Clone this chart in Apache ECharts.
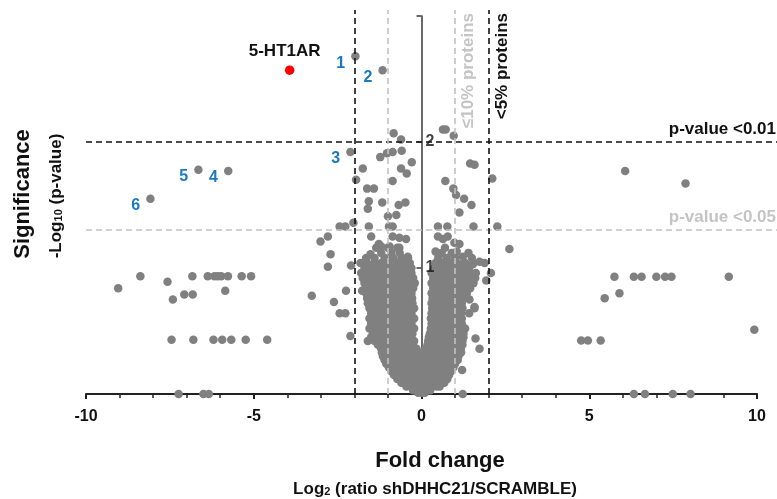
<!DOCTYPE html>
<html><head><meta charset="utf-8">
<script src="https://cdn.jsdelivr.net/npm/echarts@6/dist/echarts.min.js"></script>
<style>html,body{margin:0;padding:0;background:#fff}#c{width:777px;height:499px}</style>
</head><body><div id="c"></div>
<script>
// ---------------- data ----------------
const xTickValues = [-10, -5, 0, 5, 10];
const yTickLabels = [1, 2];
const pValueLines = [2, 1.301];          // -log10(0.01), -log10(0.05)
const pValueTexts = ['p-value <0.01', 'p-value <0.05'];
const foldLinesOuter = [-2, 2];          // <5% proteins
const foldLinesInner = [-1, 1];          // <=10% proteins
const highlightPoint = [[-3.93, 2.57]];
const highlightName = '5-HT1AR';
const numberedPoints = [[-1.97, 2.68], [-1.16, 2.57], [-2.12, 1.92], [-5.76, 1.77], [-6.65, 1.78], [-8.08, 1.55]];
const numberedLabels = ['1', '2', '3', '4', '5', '6'];

const leftOutliers = [
  [-9.04, 0.84], [-8.38, 0.935], [-7.57, 0.89], [-7.41, 0.75], [-7.07, 0.79], [-6.82, 0.79],
  [-6.83, 0.935], [-6.37, 0.935], [-6.17, 0.935], [-6.07, 0.935], [-5.97, 0.935], [-5.77, 0.935],
  [-5.85, 0.82], [-5.36, 0.935], [-5.08, 0.935],
  [-7.45, 0.43], [-6.80, 0.43], [-6.20, 0.43], [-5.94, 0.43], [-5.67, 0.43], [-5.24, 0.43], [-4.60, 0.43],
  [-7.24, 0.0], [-6.50, 0.0], [-6.34, 0.0]
];
const rightOutliers = [
  [6.07, 1.77], [7.87, 1.67],
  [5.75, 0.93], [6.33, 0.93], [6.56, 0.93], [7.00, 0.93], [7.26, 0.93], [7.45, 0.93], [9.16, 0.93],
  [5.46, 0.76], [5.90, 0.80], [9.92, 0.51],
  [4.76, 0.425], [4.96, 0.425], [5.34, 0.425],
  [6.33, 0.0], [6.66, 0.0], [7.49, 0.0], [8.02, 0.0]
];
const nearLeft = [
  [-3.27, 0.78], [-2.61, 0.73], [-2.44, 0.64], [-2.27, 0.64], [-2.25, 0.82], [-2.12, 0.46],
  [-3.01, 1.21], [-2.71, 1.11], [-2.79, 1.01], [-2.79, 1.25], [-2.10, 1.02], [-1.77, 0.82],
  [-2.44, 1.33], [-2.27, 1.33], [-2.03, 1.36], [-1.57, 1.33], [-0.97, 1.33], [-0.86, 1.33],
  [-1.00, 1.41], [-0.75, 1.42], [-1.60, 1.47], [-1.57, 1.53], [-1.17, 1.52], [-0.68, 1.50],
  [-0.48, 1.52], [-1.62, 1.63], [-1.42, 1.63], [-1.95, 1.70], [-0.86, 1.69], [-1.75, 1.79],
  [-0.61, 1.79], [-0.29, 1.84], [-0.44, 1.75], [-1.23, 1.88], [-1.03, 1.91], [-0.86, 1.92],
  [-0.59, 1.93], [-0.83, 2.07], [-0.61, 2.02],
  [-1.50, 1.25], [-1.27, 1.19], [-0.86, 1.25], [-0.66, 1.24], [-0.46, 1.23], [-0.95, 1.17],
  [-0.66, 1.16], [-1.20, 1.17], [-1.52, 1.11], [-0.41, 1.09]
];
const nearRight = [
  [0.64, 2.10], [0.72, 2.10], [0.96, 2.05], [0.71, 1.69], [1.45, 1.83], [1.58, 1.82], [2.11, 1.71],
  [0.95, 1.63], [1.03, 1.58], [1.27, 1.55], [1.49, 1.50], [1.13, 1.44], [0.49, 1.33], [0.77, 1.33],
  [1.55, 1.33], [2.26, 1.33], [2.62, 1.15], [2.07, 0.96], [1.93, 0.90], [1.88, 1.04], [1.73, 1.05],
  [1.53, 1.03], [1.13, 1.03], [1.73, 0.36], [1.61, 0.44], [1.58, 0.69], [1.43, 0.75], [1.21, 0.19],
  [1.23, 0.0], [0.49, 1.25], [0.64, 1.23], [0.78, 1.25], [0.42, 1.13], [0.98, 1.20], [1.13, 1.19],
  [1.05, 1.13], [1.23, 1.09]
];
// dense central cloud, one entry per row: [y, [x values read across the row]]
const coreRows = [
  [0.01, [-0.1, 0, 0.1]],
  [0.03, [-0.25, -0.12, 0, 0.12, 0.26]],
  [0.06, [-0.45, -0.3, -0.15, 0, 0.15, 0.3, 0.45, 0.54]],
  [0.09, [-0.6, -0.45, -0.3, -0.15, 0, 0.15, 0.3, 0.45, 0.6, 0.68]],
  [0.12, [-0.72, -0.58, -0.43, -0.28, -0.13, 0.02, 0.17, 0.32, 0.47, 0.62, 0.77]],
  [0.15, [-0.82, -0.68, -0.53, -0.38, -0.23, -0.08, 0.07, 0.22, 0.37, 0.52, 0.67, 0.82]],
  [0.18, [-0.9, -0.75, -0.6, -0.45, -0.3, -0.15, 0, 0.15, 0.3, 0.45, 0.6, 0.75, 0.88]],
  [0.21, [-0.97, -0.82, -0.67, -0.52, -0.37, -0.22, -0.07, 0.08, 0.23, 0.38, 0.53, 0.68, 0.83, 0.95]],
  [0.24, [-1.05, -0.9, -0.75, -0.6, -0.45, -0.3, -0.15, 0, 0.15, 0.3, 0.45, 0.6, 0.75, 0.9, 1.0]],
  [0.27, [-1.1, -0.95, -0.8, -0.65, -0.5, -0.35, -0.2, -0.05, 0.1, 0.25, 0.4, 0.55, 0.7, 0.85, 1.0, 1.08]],
  [0.30, [-1.15, -1.0, -0.85, -0.7, -0.55, -0.4, -0.25, -0.1, 0.05, 0.2, 0.35, 0.5, 0.65, 0.8, 0.95, 1.1]],
  [0.33, [-1.18, -1.03, -0.88, -0.73, -0.58, -0.43, -0.28, -0.13, 0.02, 0.17, 0.32, 0.47, 0.62, 0.77, 0.92, 1.07, 1.18]],
  [0.36, [-1.2, -1.05, -0.9, -0.75, -0.6, -0.45, -0.3, -0.15, 0.12, 0.27, 0.42, 0.57, 0.72, 0.87, 1.02, 1.17]],
  [0.39, [-1.3, -1.15, -1.0, -0.85, -0.7, -0.55, -0.4, -0.25, 0.18, 0.33, 0.48, 0.63, 0.78, 0.93, 1.08, 1.22]],
  [0.42, [-1.6, -1.4, -1.25, -1.1, -0.95, -0.8, -0.65, -0.5, -0.35, -0.22, 0.2, 0.35, 0.5, 0.65, 0.8, 0.95, 1.1, 1.22]],
  [0.45, [-1.5, -1.35, -1.2, -1.05, -0.9, -0.75, -0.6, -0.45, -0.3, 0.22, 0.37, 0.52, 0.67, 0.82, 0.97, 1.12, 1.25]],
  [0.48, [-1.45, -1.3, -1.15, -1.0, -0.85, -0.7, -0.55, -0.4, -0.27, 0.25, 0.4, 0.55, 0.7, 0.85, 1.0, 1.15, 1.25]],
  [0.52, [-1.55, -1.4, -1.25, -1.1, -0.95, -0.8, -0.65, -0.5, -0.35, -0.22, 0.28, 0.43, 0.58, 0.73, 0.88, 1.03, 1.18, 1.3]],
  [0.56, [-1.5, -1.35, -1.2, -1.05, -0.9, -0.75, -0.6, -0.45, -0.3, 0.3, 0.45, 0.6, 0.75, 0.9, 1.05, 1.2]],
  [0.60, [-1.55, -1.4, -1.25, -1.1, -0.95, -0.8, -0.65, -0.5, -0.35, -0.22, 0.28, 0.43, 0.58, 0.73, 0.88, 1.03, 1.2]],
  [0.64, [-1.5, -1.35, -1.2, -1.05, -0.9, -0.75, -0.6, -0.45, -0.3, 0.3, 0.45, 0.6, 0.75, 0.9, 1.05, 1.18, 1.42]],
  [0.68, [-1.55, -1.4, -1.25, -1.1, -0.95, -0.8, -0.65, -0.5, -0.35, -0.22, 0.32, 0.47, 0.62, 0.77, 0.92, 1.07, 1.22, 1.58]],
  [0.72, [-1.6, -1.45, -1.3, -1.15, -1.0, -0.85, -0.7, -0.55, -0.4, -0.27, 0.3, 0.45, 0.6, 0.75, 0.9, 1.05, 1.2]],
  [0.76, [-1.62, -1.47, -1.32, -1.17, -1.02, -0.87, -0.72, -0.57, -0.42, -0.28, 0.33, 0.48, 0.63, 0.78, 0.93, 1.08, 1.25]],
  [0.80, [-1.65, -1.5, -1.35, -1.2, -1.05, -0.9, -0.75, -0.6, -0.45, -0.3, 0.3, 0.45, 0.6, 0.75, 0.9, 1.05, 1.2, 1.35]],
  [0.84, [-1.6, -1.45, -1.3, -1.15, -1.0, -0.85, -0.7, -0.55, -0.4, -0.25, 0.35, 0.5, 0.65, 0.8, 0.95, 1.1, 1.25, 1.45]],
  [0.88, [-1.7, -1.55, -1.4, -1.25, -1.1, -0.95, -0.8, -0.65, -0.5, -0.35, -0.2, 0.3, 0.45, 0.6, 0.75, 0.9, 1.05, 1.2, 1.38, 1.55]],
  [0.92, [-1.75, -1.6, -1.45, -1.3, -1.15, -1.0, -0.85, -0.7, -0.55, -0.4, -0.25, 0.35, 0.5, 0.65, 0.8, 0.95, 1.1, 1.25, 1.4, 1.6]],
  [0.96, [-1.8, -1.62, -1.45, -1.3, -1.12, -0.95, -0.8, -0.62, -0.45, -0.3, 0.3, 0.45, 0.62, 0.78, 0.95, 1.1, 1.28, 1.45, 1.62]],
  [1.00, [-1.7, -1.52, -1.35, -1.18, -1.0, -0.82, -0.65, -0.48, -0.3, 0.38, 0.55, 0.72, 0.9, 1.08, 1.25, 1.42]],
  [1.04, [-1.82, -1.62, -1.4, -1.2, -0.98, -0.75, -0.55, -0.35, 0.42, 0.62, 0.85, 1.05, 1.3, 1.55]],
  [1.08, [-1.65, -1.4, -1.1, -0.85, -0.6, -0.4, 0.5, 0.75, 1.0, 1.5]],
  [1.12, [-1.2, -0.9, -0.65, 0.6, 0.9, 1.4]],
  [1.16, [-1.35, -1.0, -0.72, 0.7]]
];

// ---------------- chart ----------------
const FONT = "'Liberation Sans', Arial, Helvetica, sans-serif";
const GRAY = '#808080';
const grayPoints = [];
coreRows.forEach(([y, xs]) => xs.forEach(x => grayPoints.push([x, y])));
nearLeft.concat(nearRight, leftOutliers, rightOutliers).forEach(p => grayPoints.push(p));

const gridA = { left: 86, right: 20, top: 16, bottom: 105 };
const gridB = { left: 86, right: 0, top: 10, bottom: 105 };
// same scale as grid A, extended to the page edge for the reference lines
const pxPerX = (777 - gridA.left - gridA.right) / 20;
const pxPerY = (499 - gridA.top - gridA.bottom) / 3;
const xMaxB = -10 + (777 - gridB.left - gridB.right) / pxPerX;
const yMaxB = (499 - gridB.top - gridB.bottom) / pxPerY;

const blackDash = { color: '#111', width: 1.6, type: [6, 4] };
const grayDash = { color: '#c2c2c2', width: 1.6, type: [6, 4] };
const lblStyle = { fontFamily: FONT, fontWeight: 'bold', fontSize: 17 };

const markData = [];
pValueLines.forEach((v, i) => {
  markData.push([
    { coord: [-10, v], lineStyle: i === 0 ? blackDash : grayDash,
      label: Object.assign({ show: true, formatter: pValueTexts[i], position: 'insideEndTop', distance: [1, 4],
        color: i === 0 ? '#111' : '#c4c4c4' }, lblStyle) },
    { coord: [xMaxB, v] }
  ]);
});
foldLinesOuter.forEach(v => {
  markData.push([
    { coord: [v, 0], lineStyle: blackDash,
      label: v > 0 ? Object.assign({ show: true, formatter: '<5% proteins', position: 'insideEndBottom', distance: [3, 5], color: '#111' }, lblStyle) : { show: false } },
    { coord: [v, yMaxB] }
  ]);
});
foldLinesInner.forEach(v => {
  markData.push([
    { coord: [v, 0], lineStyle: grayDash,
      label: v > 0 ? Object.assign({ show: true, formatter: '≤10% proteins', position: 'insideEndBottom', distance: [3, 5], color: '#c4c4c4' }, lblStyle) : { show: false } },
    { coord: [v, yMaxB] }
  ]);
});

const chart = echarts.init(document.getElementById('c'));
chart.setOption({
  animation: false,
  backgroundColor: '#fff',
  grid: [gridA, gridB],
  xAxis: [{
    gridIndex: 0, type: 'value', min: -10, max: 10, interval: 5,
    axisLine: { onZero: false, lineStyle: { color: '#222', width: 2 } },
    axisTick: { show: true, length: 5, lineStyle: { color: '#222', width: 2 } },
    minorTick: { show: true, splitNumber: 5, length: 4, lineStyle: { color: '#222', width: 1.5 } },
    splitLine: { show: false },
    axisLabel: { color: '#111', fontFamily: FONT, fontWeight: 'bold', fontSize: 16, margin: 15,
      customValues: xTickValues, formatter: v => String(v) }
  }, {
    gridIndex: 1, type: 'value', min: -10, max: xMaxB, show: false
  }],
  yAxis: [{
    gridIndex: 0, type: 'value', min: 0, max: 3, interval: 1,
    axisLine: { onZero: true, lineStyle: { color: '#444', width: 1.6 } },
    axisTick: { show: true, length: 5, lineStyle: { color: '#444', width: 1.6 } },
    splitLine: { show: false },
    axisLabel: { show: false }
  }, {
    gridIndex: 1, type: 'value', min: 0, max: yMaxB, show: false
  }],
  series: [
    {
      type: 'scatter', xAxisIndex: 0, yAxisIndex: 0, symbolSize: 8.5, clip: false, z: 2,
      itemStyle: { color: GRAY, opacity: 1 }, data: grayPoints
    },
    {
      type: 'scatter', xAxisIndex: 0, yAxisIndex: 0, symbolSize: 8.5, clip: false, z: 3,
      itemStyle: { color: GRAY, opacity: 1 }, data: numberedPoints,
      label: { show: true, position: 'left', distance: 6, offset: [0, 7], color: '#1b78c4',
        fontFamily: FONT, fontWeight: 'bold', fontSize: 16,
        formatter: p => numberedLabels[p.dataIndex] }
    },
    {
      type: 'scatter', xAxisIndex: 0, yAxisIndex: 0, symbolSize: 9.5, clip: false, z: 3,
      itemStyle: { color: '#ff0000', opacity: 1 }, data: highlightPoint,
      label: { show: true, position: 'top', distance: 6, offset: [-5, 0], color: '#111',
        fontFamily: FONT, fontWeight: 'bold', fontSize: 17, formatter: highlightName }
    },
    {
      // y-axis tick labels, placed beside the zero-centred axis
      type: 'scatter', xAxisIndex: 0, yAxisIndex: 0, symbolSize: 0, z: 4, silent: true,
      data: yTickLabels.map(v => [0, v]),
      label: { show: true, position: 'right', distance: 4, color: '#111',
        fontFamily: FONT, fontWeight: 'bold', fontSize: 16, formatter: p => String(p.value[1]) }
    },
    {
      type: 'scatter', xAxisIndex: 1, yAxisIndex: 1, data: [], z: 5,
      markLine: { silent: true, symbol: ['none', 'none'], animation: false, data: markData }
    }
  ],
  graphic: [
    { type: 'text', x: 23, y: 194, rotation: Math.PI / 2,
      style: { text: 'Significance', fill: '#111', font: 'bold 22px ' + FONT, textAlign: 'center', textVerticalAlign: 'middle' } },
    { type: 'text', x: 56, y: 196, rotation: Math.PI / 2,
      style: { text: '{a|-Log}{s|10}{a| (p-value)}', textAlign: 'center', textVerticalAlign: 'middle',
        rich: { a: { fontFamily: FONT, fontWeight: 'bold', fontSize: 17, fill: '#111', color: '#111' },
                s: { fontFamily: FONT, fontWeight: 'bold', fontSize: 11, fill: '#111', color: '#111', verticalAlign: 'bottom' } } } },
    { type: 'text', x: 440, y: 461,
      style: { text: 'Fold change', fill: '#111', font: 'bold 22px ' + FONT, textAlign: 'center', textVerticalAlign: 'middle' } },
    { type: 'text', x: 435, y: 489,
      style: { text: '{a|Log}{s|2}{a| (ratio shDHHC21/SCRAMBLE)}', textAlign: 'center', textVerticalAlign: 'middle',
        rich: { a: { fontFamily: FONT, fontWeight: 'bold', fontSize: 17, fill: '#111', color: '#111' },
                s: { fontFamily: FONT, fontWeight: 'bold', fontSize: 11, fill: '#111', color: '#111', verticalAlign: 'bottom' } } } }
  ]
});
</script>
</body></html>
